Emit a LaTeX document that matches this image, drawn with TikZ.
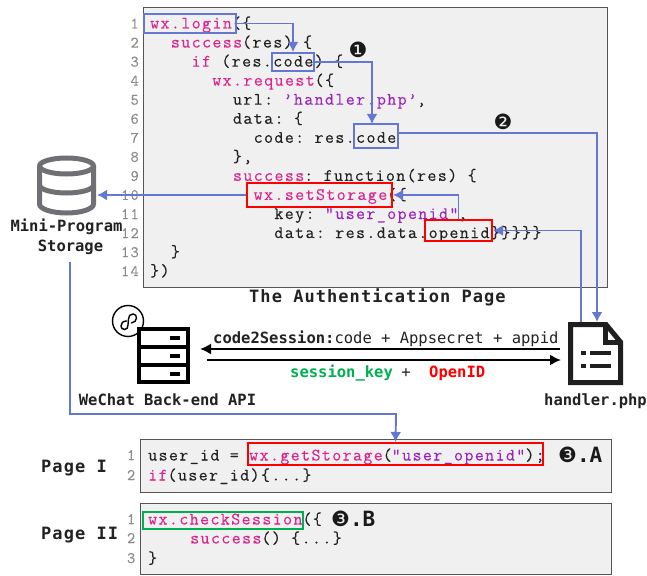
\documentclass[tikz,border=0pt]{standalone}
\usepackage{fontspec}
\usetikzlibrary{arrows.meta}
\newfontfamily\codefont[LetterSpace=7.8,FakeBold=0.2]{Latin Modern Mono}
\newfontfamily\labelfont{DejaVu Sans Mono}
\newfontfamily\titlefont[LetterSpace=6.2]{DejaVu Sans Mono}
\newfontfamily\symfont{DejaVu Sans}
\definecolor{kw}{HTML}{D9268F}
\definecolor{strc}{HTML}{9A22BE}
\definecolor{txt}{HTML}{222222}
\definecolor{flow}{HTML}{6478D2}
\definecolor{boxfill}{HTML}{F0F0F0}
\definecolor{boxline}{HTML}{555555}
\definecolor{lnum}{HTML}{8A8A8A}
\definecolor{greenc}{HTML}{00B050}
\definecolor{dbgray}{HTML}{707074}
\newcommand{\kw}[1]{\textcolor{kw}{#1}}
\newcommand{\st}[1]{\textcolor{strc}{#1}}
\newcommand{\spc}{\hspace*{10.37pt}}
\tikzset{
  codepanel/.style={draw=boxline,fill=boxfill,line width=1pt},
  codeline/.style={anchor=base west,inner sep=0pt,text=txt,font=\fontsize{17.5}{20}\codefont},
  linenum/.style={anchor=base east,inner sep=0pt,text=lnum,font=\fontsize{16}{18}\codefont},
  hl/.style={draw=#1,line width=2pt,inner sep=0pt,fill=none},
  flowline/.style={draw=flow,line width=1.9pt},
  flowarrow/.style={flowline,-{Latex[length=10pt,width=11pt]}},
  msg/.style={draw=black,line width=2pt,-{Latex[length=11pt,width=11pt]}},
  lab/.style={inner sep=0pt,anchor=base,text=txt,font=\fontsize{15.5}{20}\labelfont\bfseries},
  titlelab/.style={inner sep=0pt,anchor=base west,text=txt,font=\fontsize{17}{20}\titlefont\bfseries},
  numsym/.style={inner sep=0pt,text=black!90,font=\fontsize{21}{21}\symfont},
}
\begin{document}
\begin{tikzpicture}[x=1pt,y=-1pt]
\useasboundingbox (0,0) rectangle (647,575);
% panels
\node[codepanel,minimum width=464pt,minimum height=279pt,inner sep=0pt] (mainpanel) at (375,147.5) {};
\node[codepanel,minimum width=471pt,minimum height=53pt,inner sep=0pt] (pageone) at (375.5,465.5) {};
\node[codepanel,minimum width=471pt,minimum height=71pt,inner sep=0pt] (pagetwo) at (375.5,538.5) {};
% line numbers main
\foreach \n in {1,...,14} {
  \node[linenum] (ln\n) at (139,{28.5+(\n-1)*19.05}) {\n};
}
% code
\def\cx#1{{150+#1*10.35}}
\def\cy#1{{28.5+(#1-1)*19.05}}
\node[codeline] (c1) at (\cx{0},\cy{1}) {\kw{wx.login}(\{};
\node[codeline] (c2) at (\cx{2},\cy{2}) {\kw{success}(res)\spc\{};
\node[codeline] (c3) at (\cx{4},\cy{3}) {\kw{if}\spc(res.code)\spc\{};
\node[codeline] (c4) at (\cx{6},\cy{4}) {\kw{wx.request}(\{};
\node[codeline] (c5) at (\cx{8},\cy{5}) {url:\spc\st{’handler.php’},};
\node[codeline] (c6) at (\cx{8},\cy{6}) {data:\spc\{};
\node[codeline] (c7) at (\cx{10},\cy{7}) {code:\spc res.code};
\node[codeline] (c8) at (\cx{8},\cy{8}) {\},};
\node[codeline] (c9) at (\cx{8},\cy{9}) {\kw{success}:\spc function(res)\spc\{};
\node[codeline] (c10) at (\cx{10},\cy{10}) {\kw{wx.setStorage}(\{};
\node[codeline] (c11) at (\cx{12},\cy{11}) {key:\spc\st{"user\_openid"},};
\node[codeline] (c12) at (\cx{12},\cy{12}) {data:\spc res.data.openid\}\}\}\}\}};
\node[codeline] (c13) at (\cx{2},\cy{13}) {\}};
\node[codeline] (c14) at (\cx{0},\cy{14}) {\})};
% page I
\node[linenum] (pa1) at (135.5,460) {1};
\node[linenum] (pa2) at (135.5,480) {2};
\node[codeline] (pc1) at (148,460.5) {user\_id\spc=\spc\kw{wx.getStorage}(\st{"user\_openid"});};
\node[codeline] (pc2) at (148,480.5) {\kw{if}(user\_id)\{...\}};
% page II
\node[linenum] (pb1) at (135.5,524) {1};
\node[linenum] (pb2) at (135.5,543) {2};
\node[linenum] (pb3) at (135.5,563) {3};
\node[codeline] (qc1) at (148,524.5) {\kw{wx.checkSession}(\{};
\node[codeline] (qc2) at (190,543.5) {\kw{success}()\spc\{...\}};
\node[codeline] (qc3) at (148,563.5) {\}};
% highlight boxes
\node[hl=flow,minimum width=92pt,minimum height=19pt] (hlogin) at (190,23.5) {};
\node[hl=flow,minimum width=42pt,minimum height=18pt] (hcode) at (293,62) {};
\node[hl=flow,minimum width=44pt,minimum height=24pt] (hcodeb) at (376,136) {};
\node[hl=red,minimum width=145pt,minimum height=24pt] (hset) at (319.5,195) {};
\node[hl=red,minimum width=67pt,minimum height=21pt] (hopen) at (458.5,230.5) {};
\node[hl=red,minimum width=295pt,minimum height=22pt] (hget) at (395.5,454) {};
\node[hl=greenc,minimum width=160pt,minimum height=17pt] (hcheck) at (223,520.5) {};
% labels
\node[titlelab] (title) at (249,302) {The Authentication Page};
\node[titlelab] (pagei) at (41,472) {Page I};
\node[titlelab] (pageii) at (41,539) {Page II};
\node[lab] (store1) at (66.5,231) {Mini-Program};
\node[lab] (store2) at (70.5,251) {Storage};
\node[lab] (apilabel) at (167.5,405) {WeChat Back-end API};
\node[lab] (phplabel) at (595.5,405) {handler.php};
\node[inner sep=0pt,anchor=base west,text=txt,font=\fontsize{15.5}{20}\labelfont] (reqlabel) at (213,343) {\textbf{code2Session:}code + Appsecret + appid};
\node[inner sep=0pt,anchor=base west,text=greenc,font=\fontsize{15.5}{20}\labelfont\bfseries] (sesslabel) at (290,377) {session\_key};
\node[inner sep=0pt,anchor=base,text=txt,font=\fontsize{15.5}{20}\labelfont] (pluslabel) at (406,377) {+};
\node[inner sep=0pt,anchor=base west,text=red,font=\fontsize{15.5}{20}\labelfont\bfseries] (oidlabel) at (429,377) {OpenID};
% numbered marks
\node[numsym] (n1) at (358,50) {❶};
\node[numsym] (n2) at (503,122) {❷};
\node[numsym,anchor=base west] (n3a) at (558,462) {❸\fontsize{21}{21}\labelfont\bfseries .A};
\node[numsym,anchor=base west] (n3b) at (331,526) {❸\fontsize{21}{21}\labelfont\bfseries .B};
% database icon
\node[inner sep=0pt,minimum width=60pt,minimum height=60pt] (db) at (66.5,185.5) {};
\begin{scope}[draw=dbgray,line width=5pt]
  \draw (66.5,166) ellipse [x radius=27,y radius=8];
  \draw (39.5,166) -- (39.5,204) arc [start angle=180,end angle=360,x radius=27,y radius=-9] -- (93.5,166);
  \draw (39.5,185) arc [start angle=180,end angle=360,x radius=27,y radius=-8];
\end{scope}
% mini-program logo, behind the server's corner
\node[circle,draw=black,fill=white,line width=1.4pt,minimum size=31pt,inner sep=0pt] (logo) at (128,321) {};
\draw[black,line width=1.4pt,line cap=round] (126.5,321) .. controls (123,321) and (121,323) .. (121,326) .. controls (121,328) and (122.5,329.5) .. (124.5,329.5) .. controls (127,329.5) and (128,327.5) .. (128,325) -- (128.5,319) .. controls (128.5,316) and (130,314) .. (133,314) .. controls (135.5,314) and (136.5,316) .. (136.5,318) .. controls (136.5,320.5) and (134.5,322.5) .. (131.5,323);
% server icon
\node[inner sep=0pt,minimum width=53pt,minimum height=57pt] (server) at (163.5,355.5) {};
\draw[black,fill=white,line width=4pt] (139,329) rectangle (188,382);
\draw[black,line width=4pt] (139,347) -- (188,347) (139,365) -- (188,365);
\draw[black,line width=4pt] (170,338) -- (180,338) (170,356) -- (180,356) (170,374) -- (180,374);
% file icon
\node[inner sep=0pt,minimum width=55pt,minimum height=63pt] (file) at (595.5,353.5) {};
\draw[draw=black!88,line width=5pt,line join=miter] (570.5,324.5) -- (606,324.5) -- (620.5,342) -- (620.5,382.5) -- (570.5,382.5) -- cycle;
\draw[draw=black!88,line width=5pt] (605,324.5) -- (605,342) -- (620.5,342);
\draw[black!88,line width=4.5pt] (581,353) -- (586,353) (590,353) -- (611,353) (581,366) -- (586,366) (590,366) -- (611,366);
% connectors
\coordinate (hcodebin) at (372,124);
\coordinate (filein) at (597,322);
\coordinate (fileout) at (581,322);
\coordinate (dbout) at (70,262);
\coordinate (dbin) at (97,195);
\coordinate (apiL) at (200,349);
\coordinate (apiR) at (207,360);
\coordinate (phpL) at (560,349);
\coordinate (phpR) at (561,360);
\draw[flowarrow] (hlogin.east) -| (hcode.north);
\draw[flowarrow] (hcode.east) -| (hcodebin);
\draw[flowarrow] (hcodeb.east |- 0,133) -| (filein);
\draw[flowarrow] (fileout) |- (hopen.east);
\draw[flowarrow] (hopen.north) |- (hset.east);
\draw[flowarrow] (hset.west) -- (dbin);
\draw[flowarrow] (dbout) |- (396,414) -- (hget.north);
\draw[msg] (phpL) -- (apiL);
\draw[msg] (apiR) -- (phpR);
\end{tikzpicture}
\end{document}
